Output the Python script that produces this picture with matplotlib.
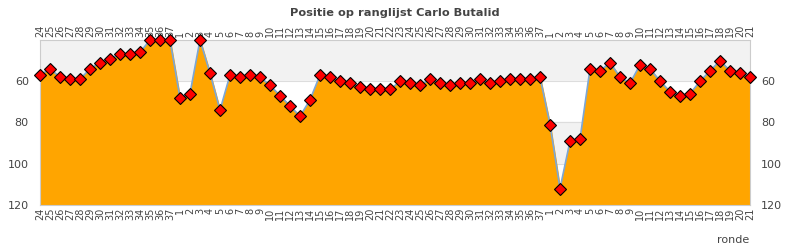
import matplotlib.pyplot as plt
import numpy as np

rondes = ([str(r) for r in range(24, 38)] + [str(r) for r in range(1, 38)]
          + [str(r) for r in range(1, 22)])

positie = [57, 54, 58, 59, 59, 54, 51, 49, 47, 47, 46, 40, 40, 40,
           68, 66, 40, 56, 74, 57, 58, 57, 58, 62, 67, 72, 77, 69,
           57, 58, 60, 61, 63, 64, 64, 64, 60, 61, 62, 59, 61, 62,
           61, 61, 59, 61, 60, 59, 59, 59, 58, 81, 112, 89, 88, 54,
           55, 51, 58, 61, 52, 54, 60, 65, 67, 66, 60, 55, 50, 55,
           56, 58]

x = np.arange(len(positie))

fig = plt.figure(figsize=(7.9, 2.5), dpi=100)
ax = fig.add_axes([0.0506, 0.18, 0.8988, 0.66])

# alternating bands
for lo, hi, c in [(40, 60, '#f2f2f2'), (60, 80, 'white'),
                  (80, 100, '#f2f2f2'), (100, 120, 'white')]:
    ax.axhspan(lo, hi, color=c, zorder=0)
for g in [60, 80, 100]:
    ax.axhline(g, color='#dddddd', lw=0.8, zorder=0.5)

ax.fill_between(x, positie, 120, color='#ffa500', zorder=1)
ax.plot(x, positie, color='#7ba7d7', lw=1.2, zorder=2)
ax.plot(x, positie, linestyle='none', marker='D', markersize=6.5,
        markerfacecolor='red', markeredgecolor='black', markeredgewidth=0.8,
        zorder=3, clip_on=False)

ax.set_xlim(0, len(positie) - 1)
ax.set_ylim(120, 40)
ax.set_yticks([60, 80, 100, 120])

ax.set_xticks(x)
ax.set_xticklabels(rondes, rotation=90, fontsize=7, color='#444444')
ax.tick_params(axis='x', length=0, pad=2, labeltop=True, labelbottom=True)
ax.tick_params(axis='y', length=0, labelsize=8, labelcolor='#444444',
               labelleft=True, labelright=True, pad=8)

for s in ax.spines.values():
    s.set_color('#cccccc')
    s.set_linewidth(0.8)

fig.text(0.5, 0.95, 'Positie op ranglijst Carlo Butalid', ha='center',
         va='center', fontsize=8.2, fontweight='bold', color='#444444')
fig.text(0.949, 0.04, 'ronde', ha='right', va='center', fontsize=8,
         color='#444444')

fig.savefig('out.png', dpi=100)
